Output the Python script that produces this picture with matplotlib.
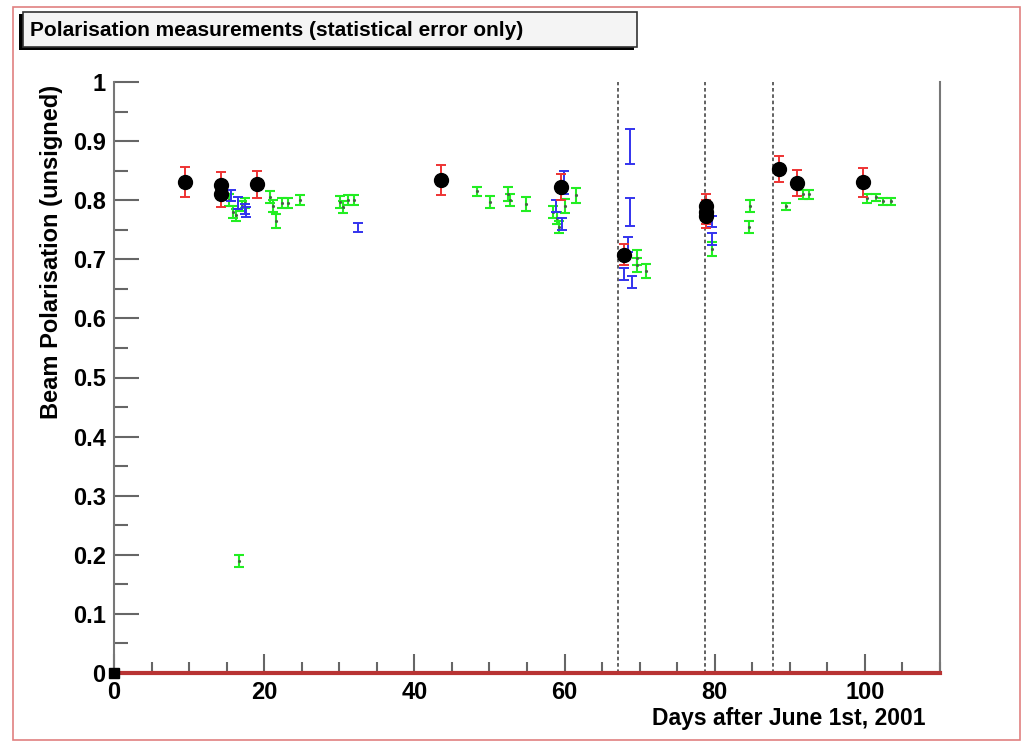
import matplotlib
matplotlib.use("Agg")
import matplotlib.pyplot as plt
from matplotlib.patches import Rectangle
from matplotlib.ticker import MultipleLocator
import numpy as np

plt.rcParams['font.family'] = ['Liberation Sans', 'DejaVu Sans']

# Black points (combined measurements) with red error bars
black_x = [9.5, 14.3, 14.3, 19.1, 43.5, 59.5, 67.9, 78.9, 78.9, 78.9, 88.5, 90.9, 99.7]
black_y = [0.831, 0.826, 0.810, 0.827, 0.834, 0.822, 0.708, 0.790, 0.780, 0.773, 0.852, 0.829, 0.830]
black_e = [0.025, 0.022, 0.022, 0.023, 0.025, 0.022, 0.018, 0.020, 0.020, 0.020, 0.022, 0.022, 0.025]

# Blue measurements
blue_x = [15.6, 16.5, 17.4, 17.6, 32.5, 58.8, 59.9, 59.7, 68.7, 68.7, 68.5, 67.9, 69.0, 79.6, 79.6]
blue_y = [0.808, 0.795, 0.785, 0.780, 0.754, 0.790, 0.830, 0.760, 0.891, 0.780, 0.725, 0.675, 0.661, 0.764, 0.734]
blue_e = [0.010, 0.010, 0.008, 0.008, 0.008, 0.010, 0.020, 0.010, 0.029, 0.024, 0.012, 0.010, 0.010, 0.010, 0.010]

# Green measurements
green_x = [15.3, 15.8, 16.3, 17.0, 17.5, 16.7, 20.8, 21.2, 21.6, 22.4, 23.2, 24.8,
           30.1, 30.5, 31.2, 32.0, 48.4, 50.1, 52.5, 52.7, 54.9, 58.5, 59.0, 59.2,
           60.0, 61.5, 69.6, 69.7, 70.8, 79.6, 84.7, 84.5, 89.5, 91.7, 92.5,
           100.3, 101.5, 102.4, 103.5]
green_y = [0.800, 0.780, 0.775, 0.790, 0.795, 0.190, 0.805, 0.790, 0.765, 0.795, 0.795, 0.800,
           0.797, 0.788, 0.800, 0.800, 0.815, 0.797, 0.810, 0.800, 0.793, 0.780, 0.770, 0.755,
           0.790, 0.808, 0.703, 0.690, 0.680, 0.717, 0.790, 0.754, 0.790, 0.810, 0.810,
           0.803, 0.805, 0.798, 0.798]
green_e = [0.010, 0.010, 0.010, 0.008, 0.008, 0.010, 0.010, 0.010, 0.012, 0.008, 0.008, 0.008,
           0.010, 0.010, 0.008, 0.008, 0.008, 0.010, 0.012, 0.010, 0.012, 0.010, 0.010, 0.010,
           0.012, 0.012, 0.012, 0.012, 0.012, 0.012, 0.010, 0.010, 0.006, 0.008, 0.008,
           0.008, 0.006, 0.006, 0.006]

origin_x = [0.0]
origin_y = [0.0]

vlines_x = [67.1, 78.7, 87.7]

x_ticks = [0, 20, 40, 60, 80, 100]
y_ticks = [0, 0.1, 0.2, 0.3, 0.4, 0.5, 0.6, 0.7, 0.8, 0.9, 1]
y_tick_labels = ['0', '0.1', '0.2', '0.3', '0.4', '0.5', '0.6', '0.7', '0.8', '0.9', '1']

W, H = 1025, 743
fig = plt.figure(figsize=(W / 100, H / 100), dpi=100)
ax = fig.add_axes([114 / W, 1 - 673 / H, (940 - 114) / W, (673 - 82) / H])

ax.set_xlim(0, 110)
ax.set_ylim(0, 1)

for xv in vlines_x:
    ax.axvline(xv, color='#555555', lw=1.3, ls=(0, (2, 1.5)), zorder=1)

ax.errorbar(green_x, green_y, yerr=green_e, fmt='none', ecolor='#22ee22',
            elinewidth=1.5, capsize=3.5, capthick=1.5, zorder=2)
ax.plot(green_x, green_y, ls='none', marker='.', ms=2.5, color='#446644', zorder=2.1)
ax.errorbar(blue_x, blue_y, yerr=blue_e, fmt='none', ecolor='#3333ee',
            elinewidth=1.4, capsize=3.5, capthick=1.4, zorder=3)
ax.errorbar(black_x, black_y, yerr=black_e, fmt='none', ecolor='#ee3333',
            elinewidth=1.4, capsize=3.5, capthick=1.4, zorder=4)
ax.plot(black_x, black_y, ls='none', marker='o', ms=10, color='black', zorder=5)
ax.plot(origin_x, origin_y, ls='none', marker='s', ms=7, color='black', zorder=6,
        clip_on=False)

ax.set_xticks(x_ticks)
ax.set_xticklabels([str(t) for t in x_ticks])
ax.set_yticks(y_ticks)
ax.set_yticklabels(y_tick_labels)
ax.xaxis.set_minor_locator(MultipleLocator(5))
ax.yaxis.set_minor_locator(MultipleLocator(0.05))

ax.tick_params(axis='both', which='major', direction='in', color='#666666', width=1.5,
               labelsize=17, labelcolor='black')
ax.tick_params(axis='y', which='major', length=18, pad=6)
ax.tick_params(axis='y', which='minor', direction='in', length=10, width=1.5, color='#666666')
ax.tick_params(axis='x', which='major', length=14, pad=6)
ax.tick_params(axis='x', which='minor', direction='in', length=8, width=1.5, color='#666666')
for lab in ax.get_xticklabels() + ax.get_yticklabels():
    lab.set_fontweight('bold')

for side in ['left', 'right', 'top']:
    ax.spines[side].set_color('#777777')
    ax.spines[side].set_linewidth(1.5)
ax.spines['top'].set_visible(False)
ax.spines['bottom'].set_color('#b83333')
ax.spines['bottom'].set_linewidth(3)

fig.text(925 / W, 1 - 718 / H, 'Days after June 1st, 2001', ha='right', va='center',
         fontsize=16.5, fontweight='bold')
fig.text(52 / W, 1 - 85 / H, 'Beam Polarisation (unsigned)', ha='center', va='top',
         rotation=90, fontsize=17, fontweight='bold')

# Figure border
fig.add_artist(Rectangle((13 / W, 3 / H), (1020 - 13) / W, (736 - 3) / H,
                         transform=fig.transFigure, fill=False, ec='#e08080', lw=1.2))

# Title box with shadow
fig.add_artist(Rectangle((19 / W, 1 - 50 / H), (634 - 19) / W, (50 - 14) / H,
                         transform=fig.transFigure, fc='black', ec='black', lw=0))
fig.add_artist(Rectangle((23 / W, 1 - 47 / H), (637 - 23) / W, (47 - 12) / H,
                         transform=fig.transFigure, fc='#f4f4f4', ec='#333333', lw=1.2))
fig.text(30 / W, 1 - 31 / H, 'Polarisation measurements (statistical error only)',
         ha='left', va='center', fontsize=15, fontweight='bold')

fig.savefig('out.png', dpi=100)
